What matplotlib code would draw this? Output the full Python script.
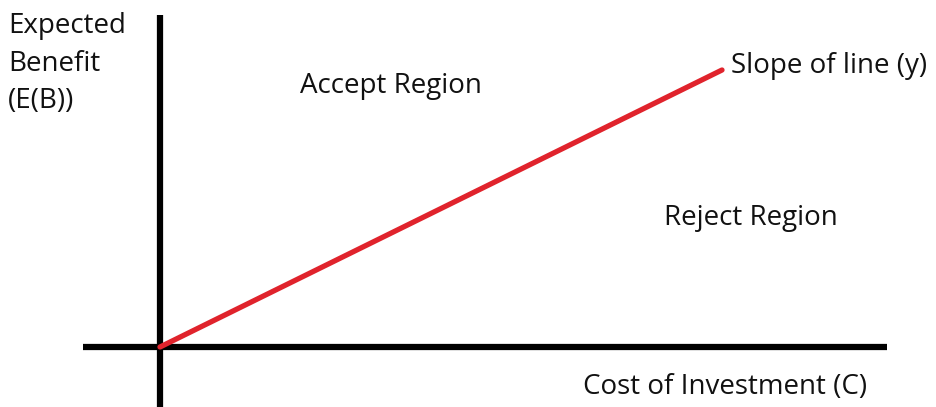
import matplotlib
matplotlib.use("Agg")
import matplotlib.pyplot as plt

# axis extents (origin = where the two axes cross)
x_axis_cost = [-77, 727]
y_axis_benefit = [-60, 332]

# break-even line: benefit = slope * cost
line_cost = [0, 562]
line_benefit = [0, 277]

# labels: (text, x, y) at the left baseline
labels = [
    ("Expected", -152, 314),
    ("Benefit", -152, 276),
    ("(E(B))", -152, 239),
    ("Accept Region", 140, 254),
    ("Slope of line (y)", 571, 274),
    ("Reject Region", 504, 122),
    ("Cost of Investment (C)", 423, -47),
]

plt.rcParams['font.family'] = ['Open Sans', 'DejaVu Sans']

fig = plt.figure(figsize=(9.37, 4.07), dpi=100)
ax = fig.add_axes([0, 0, 1, 1])
ax.set_xlim(-160, 777)
ax.set_ylim(-60, 347)
ax.axis('off')

ax.plot(x_axis_cost, [0, 0], color='black', lw=4.5, solid_capstyle='butt')
ax.plot([0, 0], y_axis_benefit, color='black', lw=4.5, solid_capstyle='butt')
ax.plot(line_cost, line_benefit, color='#e0232c', lw=3.8, solid_capstyle='round')

for txt, x, y in labels:
    ax.text(x, y, txt, fontsize=20, color='#111111', ha='left', va='baseline')

fig.savefig('out.png', dpi=100, facecolor='white')
